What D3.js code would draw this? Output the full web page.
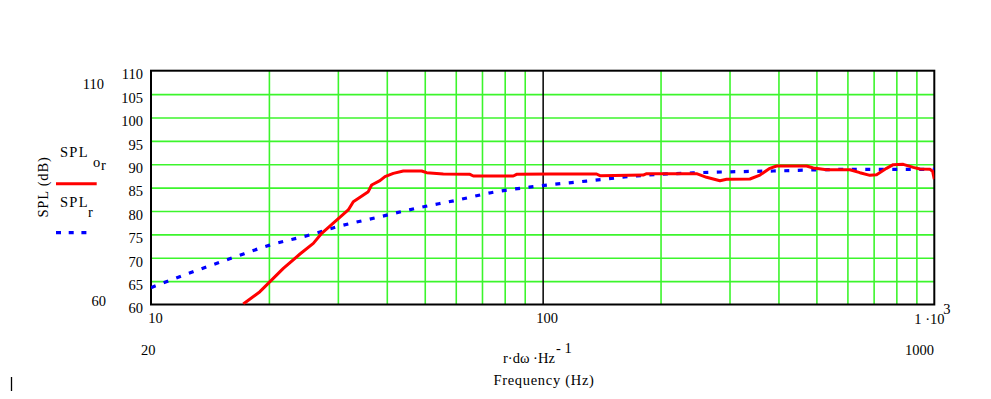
<!DOCTYPE html>
<html>
<head>
<meta charset="utf-8">
<script src="https://cdn.jsdelivr.net/npm/d3@7/dist/d3.min.js"></script>
<style>
  body { margin: 0; background: #fff; }
  svg { display: block; }
  svg text { font-family: "Liberation Serif", "Times New Roman", "DejaVu Serif", serif; fill: #000; }
</style>
</head>
<body>
<svg id="chart" width="991" height="399"></svg>
<script>
// SPL_or : measured response (red, solid)
var freqOr = [17.2, 18.97, 20.13, 21.77, 24.01, 25.97, 27.28, 29.49, 31.89, 32.85, 35.87, 36.59,
  38.42, 39.57, 41.57, 44.08, 49.1, 50.55, 55.76, 65.23, 66.52, 84.14, 85.8, 104.4, 137.3, 140.0,
  180.7, 184.3, 247.2, 262.1, 283.6, 294.9, 338.2, 358.8, 380.4, 395.6, 472.0, 490.9, 530.9,
  608.9, 645.7, 684.8, 712.2, 755.2, 785.3, 833.1, 883.6, 918.8, 974.5, 990, 1000];
var splOr = [60.1, 62.74, 64.88, 67.73, 70.8, 73.08, 75.22, 77.71, 80.21, 81.99, 84.13, 85.56,
  86.48, 87.34, 88.05, 88.55, 88.55, 88.19, 87.91, 87.84, 87.48, 87.48, 87.84, 87.91, 87.91, 87.55,
  87.69, 87.98, 87.98, 87.2, 86.48, 86.77, 86.84, 87.69, 89.12, 89.62, 89.62, 89.19, 88.83,
  88.83, 88.19, 87.62, 87.76, 89.12, 89.9, 89.98, 89.33, 88.98, 88.91, 88.5, 86.8];

// SPL_r : reference response (blue, dotted)
var freqR = [10, 12.8, 16.3, 20.1, 25.5, 29.8, 37.7, 47.7, 60.3, 74.8, 94.6, 129.5, 173.8, 252.1, 388, 608.9, 1000];
var splR = [63.6, 67.0, 70.1, 72.7, 74.9, 76.6, 78.6, 80.6, 82.3, 84.0, 85.2, 86.4, 87.5, 88.2, 88.55, 88.9, 88.9];

var yTicks = [60, 65, 70, 75, 80, 85, 90, 95, 100, 105, 110];
var xGrid = [20, 30, 40, 50, 60, 70, 80, 90, 200, 300, 400, 500, 600, 700, 800, 900];
var xTicks = [10, 100];

(function () {
var svg = d3.select("#chart");
var pLeft = 151, pRight = 934.3, pTop = 70.7, pBottom = 304.5;
var gridColor = "#3cf52c";
var serif = "Liberation Serif";

var x = d3.scaleLog().domain([10, 1000]).range([pLeft, pRight]);
var y = d3.scaleLinear().domain([60, 110]).range([pBottom, pTop]);

// horizontal grid + y labels
var yAxis = svg.append("g")
    .attr("transform", "translate(" + pLeft + ",0)")
    .call(d3.axisLeft(y).tickValues(yTicks).tickSize(-(pRight - pLeft)).tickPadding(8));
yAxis.attr("font-family", serif).attr("font-size", 14.5);
yAxis.select(".domain").remove();
yAxis.selectAll("line")
    .attr("stroke", function (d) { return (d == 60 || d == 110) ? "none" : gridColor; })
    .attr("stroke-width", 1.6);
yAxis.selectAll("text").attr("dy", "0.57em");

// vertical grid
var xAxisGrid = svg.append("g")
    .attr("transform", "translate(0," + pBottom + ")")
    .call(d3.axisBottom(x).tickValues(xGrid).tickSize(-(pBottom - pTop)).tickFormat(""));
xAxisGrid.select(".domain").remove();
xAxisGrid.selectAll("line").attr("stroke", gridColor).attr("stroke-width", 1.6);

// x labels 10, 100 and the black decade line at 100
var xAxis = svg.append("g")
    .attr("transform", "translate(0," + pBottom + ")")
    .call(d3.axisBottom(x).tickValues(xTicks).tickSize(-(pBottom - pTop)).tickFormat(d3.format("d")));
xAxis.attr("font-family", serif).attr("font-size", 14.5);
xAxis.select(".domain").remove();
xAxis.selectAll("line")
    .attr("stroke", function (d) { return d == 100 ? "#000" : "none"; })
    .attr("stroke-width", 1.5);
xAxis.selectAll("text").attr("y", 18.5).attr("dy", 0).attr("dx", 4);

// plot frame
svg.append("rect")
    .attr("x", pLeft).attr("y", pTop)
    .attr("width", pRight - pLeft).attr("height", pBottom - pTop)
    .attr("fill", "none").attr("stroke", "#000").attr("stroke-width", 2);

// curves
svg.append("clipPath").attr("id", "clip")
    .append("rect").attr("x", pLeft).attr("y", pTop)
    .attr("width", pRight - pLeft).attr("height", pBottom - pTop);

var lineOr = d3.line()
    .x(function (d) { return x(d[0]); })
    .y(function (d) { return y(d[1]); });
var lineR = d3.line()
    .x(function (d) { return x(d[0]); })
    .y(function (d) { return y(d[1]); })
    .curve(d3.curveMonotoneX);

svg.append("path")
    .datum(d3.zip(freqR, splR))
    .attr("clip-path", "url(#clip)")
    .attr("d", lineR)
    .attr("fill", "none")
    .attr("stroke", "#0000ff")
    .attr("stroke-width", 3.2)
    .attr("stroke-dasharray", "5,8.5");

svg.append("path")
    .datum(d3.zip(freqOr, splOr))
    .attr("clip-path", "url(#clip)")
    .attr("d", lineOr)
    .attr("fill", "none")
    .attr("stroke", "#ff0000")
    .attr("stroke-width", 3)
    .attr("stroke-linejoin", "round");

function label(tx, ty, str, anchor) {
    return svg.append("text")
        .attr("x", tx).attr("y", ty)
        .attr("text-anchor", anchor || "start")
        .attr("font-family", serif)
        .attr("font-size", 14.5)
        .text(str);
}

// 1·10^3 label
label(x(1000) - 20, 324, "1 \u00b710");
label(x(1000) + 9, 314, "3");

// axis limit labels (Mathcad style)
label(104, 89, "110", "end");
label(106, 306, "60", "end");
label(141, 355, "20");
label(934, 355, "1000", "end");

// axis titles
label(503, 363, "r\u00b7d\u03c9 \u00b7Hz");
label(556, 353, "- 1");
label(544, 385, "Frequency (Hz)", "middle").style("letter-spacing", "0.7px");

svg.append("text")
    .attr("transform", "translate(48,187) rotate(-90)")
    .attr("text-anchor", "middle")
    .attr("font-family", serif)
    .attr("font-size", 14.5)
    .style("letter-spacing", "0.8px")
    .text("SPL (dB)");

// legend
label(60, 157, "SPL").style("letter-spacing", "1.3px");
label(93, 167, "o");
label(101, 170, "r");
svg.append("line")
    .attr("x1", 56).attr("x2", 96.7).attr("y1", 183.7).attr("y2", 183.7)
    .attr("stroke", "#ff0000").attr("stroke-width", 3);

label(60, 207, "SPL").style("letter-spacing", "1.3px");
label(88, 217, "r");
svg.append("line")
    .attr("x1", 56).attr("x2", 87).attr("y1", 232.7).attr("y2", 232.7)
    .attr("stroke", "#0000ff").attr("stroke-width", 3.2)
    .attr("stroke-dasharray", "5,7.7");

// cursor mark bottom-left
svg.append("line")
    .attr("x1", 11.5).attr("x2", 11.5).attr("y1", 377).attr("y2", 391)
    .attr("stroke", "#000").attr("stroke-width", 1.3);
})();
</script>
</body>
</html>
